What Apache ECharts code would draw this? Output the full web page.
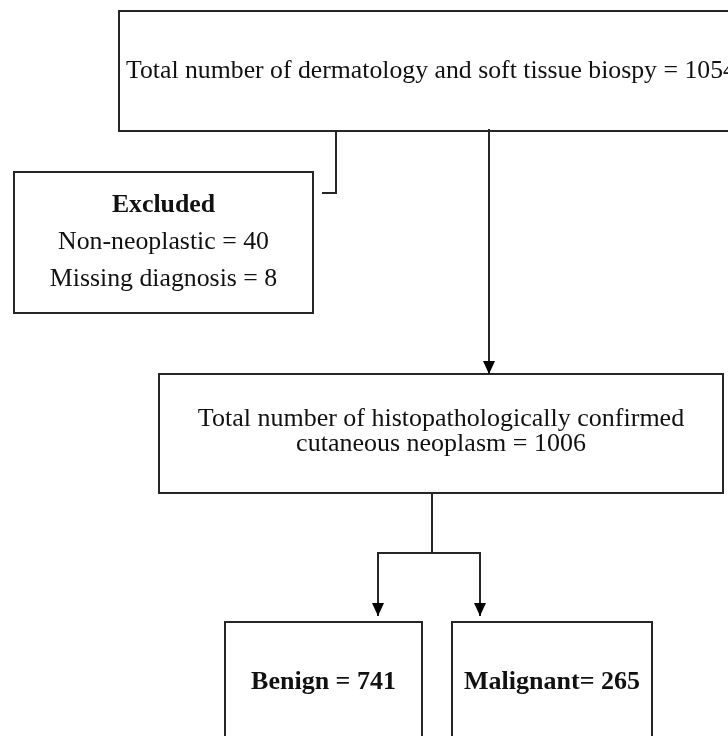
<!DOCTYPE html>
<html><head><meta charset="utf-8">
<script src="https://cdn.jsdelivr.net/npm/echarts@6/dist/echarts.min.js"></script>
<style>html,body{margin:0;padding:0;background:#fff}#c{width:728px;height:736px}</style>
</head><body><div id="c"></div>
<script>
// ---- data ----
const totalBiopsyLabel = 'Total number of dermatology and soft tissue biospy';
const totalBiopsy = 1054;
const excludedTitle = 'Excluded';
const excludedNames = ['Non-neoplastic', 'Missing diagnosis'];
const excludedCounts = [40, 8];
const confirmedLabel = ['Total number of histopathologically confirmed', 'cutaneous neoplasm'];
const confirmedCount = 1006;
const outcomeNames = ['Benign', 'Malignant'];
const outcomeSeps = [' = ', '= '];
const outcomeCounts = [741, 265];

// ---- layout (canvas units) ----
const W = 728, H = 736;
const boxes = [
  {rect: [119, 11, 800, 131], align: 'left', tx: 126, size: 25.75,
   lines: [{t: totalBiopsyLabel + ' = ' + totalBiopsy, y: 79, bold: false}]},
  {rect: [14, 172, 313, 313], align: 'center', size: 25.8,
   lines: [{t: excludedTitle, y: 213, bold: true},
           {t: excludedNames[0] + ' = ' + excludedCounts[0], y: 250, bold: false},
           {t: excludedNames[1] + ' = ' + excludedCounts[1], y: 287, bold: false}]},
  {rect: [159, 374, 723, 493], align: 'center', size: 26,
   lines: [{t: confirmedLabel[0], y: 427, bold: false},
           {t: confirmedLabel[1] + ' = ' + confirmedCount, y: 452, bold: false}]},
  {rect: [225, 622, 422, 790], align: 'center', size: 26,
   lines: [{t: outcomeNames[0] + outcomeSeps[0] + outcomeCounts[0], y: 690, bold: true}]},
  {rect: [452, 622, 652, 790], align: 'center', size: 26,
   lines: [{t: outcomeNames[1] + outcomeSeps[1] + outcomeCounts[1], y: 690, bold: true}]}
];
const connectors = [
  {pts: [[336, 131], [336, 193], [322, 193]], arrow: false},
  {pts: [[489, 129], [489, 374]], arrow: true},
  {pts: [[432, 493], [432, 553]], arrow: false},
  {pts: [[377, 553], [481, 553]], arrow: false},
  {pts: [[378, 553], [378, 616]], arrow: true},
  {pts: [[480, 553], [480, 616]], arrow: true}
];

const INK = '#262626';
const FONT = '"Liberation Serif","Times New Roman",serif';

const chart = echarts.init(document.getElementById('c'), null, {renderer: 'canvas'});
chart.setOption({
  animation: false,
  backgroundColor: '#fff',
  grid: {left: 0, right: 0, top: 0, bottom: 0},
  xAxis: {type: 'value', min: 0, max: W, show: false},
  yAxis: {type: 'value', min: 0, max: H, inverse: true, show: false},
  series: [
    {
      type: 'custom',
      coordinateSystem: 'cartesian2d',
      clip: true,
      data: boxes.map((b, i) => [i, i]),
      renderItem: function (params, api) {
        const b = boxes[params.dataIndex];
        const p0 = api.coord([b.rect[0], b.rect[1]]);
        const p1 = api.coord([b.rect[2], b.rect[3]]);
        const children = [{
          type: 'rect',
          shape: {x: p0[0], y: p0[1], width: p1[0] - p0[0], height: p1[1] - p0[1]},
          style: {fill: '#fff', stroke: INK, lineWidth: 2}
        }];
        const cx = b.align === 'left' ? b.tx : (b.rect[0] + b.rect[2]) / 2;
        b.lines.forEach(function (ln) {
          const p = api.coord([cx, ln.y - 7.5]);
          children.push({
            type: 'text',
            style: {
              text: ln.t, x: p[0], y: p[1],
              font: (ln.bold ? 'bold ' : '') + b.size + 'px ' + FONT,
              fill: '#111', align: b.align, verticalAlign: 'middle'
            }
          });
        });
        return {type: 'group', children: children};
      }
    },
    {
      type: 'custom',
      coordinateSystem: 'cartesian2d',
      data: connectors.map((c, i) => [i, i]),
      renderItem: function (params, api) {
        const c = connectors[params.dataIndex];
        const pts = c.pts.map(p => api.coord(p));
        const children = [{
          type: 'polyline',
          shape: {points: pts},
          style: {stroke: INK, lineWidth: 2, fill: null}
        }];
        if (c.arrow) {
          const tip = pts[pts.length - 1];
          children.push({
            type: 'polygon',
            shape: {points: [[tip[0], tip[1]], [tip[0] - 6, tip[1] - 13], [tip[0] + 6, tip[1] - 13]]},
            style: {fill: '#000'}
          });
        }
        return {type: 'group', children: children};
      }
    }
  ]
});
</script>
</body></html>
